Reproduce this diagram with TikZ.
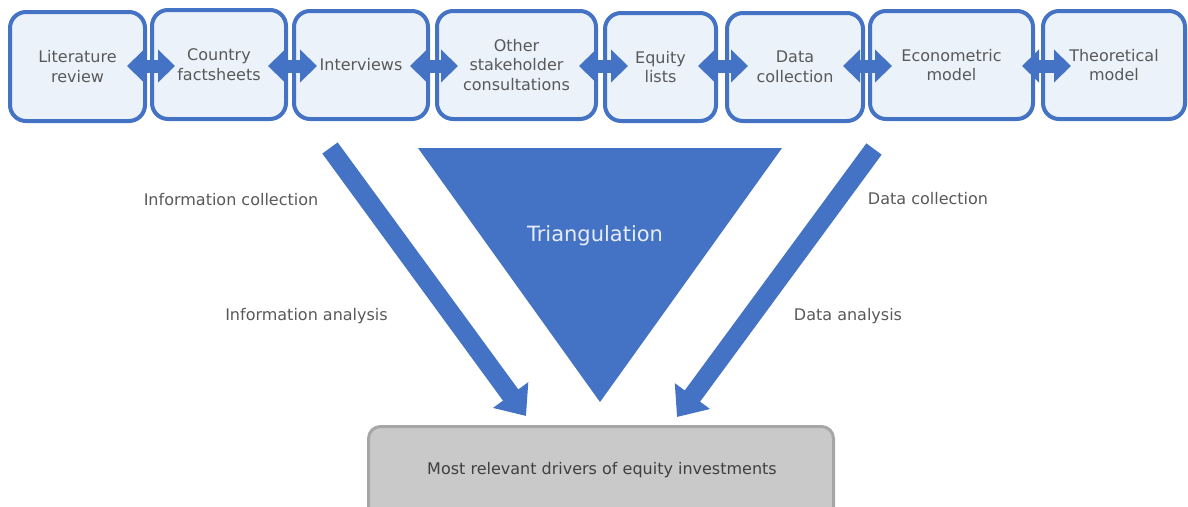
\documentclass[tikz,border=0pt]{standalone}
\usepackage{fontspec}
\setmainfont{DejaVu Sans}
\usetikzlibrary{arrows.meta,calc}
\definecolor{accent}{HTML}{4472C4}
\definecolor{boxfill}{HTML}{EBF2FA}
\definecolor{txtgray}{HTML}{595959}
\definecolor{resfill}{HTML}{C9C9C9}
\definecolor{resline}{HTML}{A6A6A6}
\definecolor{restext}{HTML}{404040}
\definecolor{trilabel}{HTML}{E6EDF8}
\begin{document}
\begin{tikzpicture}[x=1pt,y=-1pt,
  stage/.style={draw=accent, fill=boxfill, line width=4pt, rounded corners=16pt,
    outer sep=0pt, inner sep=0pt, text=txtgray, align=center,
    font=\fontsize{16}{19.5}\selectfont},
  dbl/.style={accent, line width=13pt,
    {Triangle[width=32pt,length=17pt]}-{Triangle[width=32pt,length=17pt]}},
  flow/.style={accent, line width=19pt, -{Triangle[width=42pt,length=26pt]}},
  lbl/.style={text=txtgray, font=\fontsize{16}{19.5}\selectfont, inner sep=0pt}]
\useasboundingbox (0,0) rectangle (1188,506);
\clip (0,0) rectangle (1188,506);

% process stages
\node[stage, minimum width=135pt, minimum height=109pt] (b1) at (77.5,66.5) {Literature\\review};
\node[stage, minimum width=134pt, minimum height=109pt] (b2) at (219,64.5) {Country\\factsheets};
\node[stage, minimum width=134pt, minimum height=108pt] (b3) at (361,65) {Interviews};
\node[stage, minimum width=159pt, minimum height=108pt] (b4) at (516.5,65) {Other\\stakeholder\\consultations};
\node[stage, minimum width=111pt, minimum height=108pt] (b5) at (660.5,67) {Equity\\lists};
\node[stage, minimum width=136pt, minimum height=108pt] (b6) at (795,67) {Data\\collection};
\node[stage, minimum width=163pt, minimum height=108pt] (b7) at (951.5,65) {Econometric\\model};
\node[stage, minimum width=142pt, minimum height=108pt] (b8) at (1114,65) {Theoretical\\model};

% two-way links between neighbouring stages
\draw[dbl] ($(b1.east |- 0,66)+(-18,0)$) -- ($(b2.west |- 0,66)+(23,0)$);
\draw[dbl] ($(b2.east |- 0,66)+(-18,0)$) -- ($(b3.west |- 0,66)+(23,0)$);
\draw[dbl] ($(b3.east |- 0,66)+(-18,0)$) -- ($(b4.west |- 0,66)+(21,0)$);
\draw[dbl] ($(b4.east |- 0,66)+(-17,0)$) -- ($(b5.west |- 0,66)+(23,0)$);
\draw[dbl] ($(b5.east |- 0,66)+(-18,0)$) -- ($(b6.west |- 0,66)+(21,0)$);
\draw[dbl] ($(b6.east |- 0,66)+(-20,0)$) -- ($(b7.west |- 0,66)+(22,0)$);
\draw[dbl] ($(b7.east |- 0,66)+(-11,0)$) -- ($(b8.west |- 0,66)+(28,0)$);

% triangulation funnel
\fill[accent] (418,148) -- (782,148) -- (600,402) -- cycle;
\node[text=trilabel, font=\fontsize{21}{24}\selectfont, inner sep=0pt] (tri) at (595,236) {Triangulation};

% result
\node[draw=resline, fill=resfill, line width=3pt, rounded corners=12pt, outer sep=0pt,
  minimum width=465pt, minimum height=100pt] (res) at (601,476.5) {};
\node[text=restext, font=\fontsize{16}{19.5}\selectfont, inner sep=0pt] (restxt) at (602,470)
  {Most relevant drivers of equity investments};

% information and data streams
\coordinate (lt) at (330,148);
\coordinate (lh) at (526,416);
\coordinate (rt) at (874,149);
\coordinate (rh) at (677,417);
\draw[flow] (lt) -- (lh);
\draw[flow] (rt) -- (rh);

\node[lbl] (l1) at (231,200) {Information collection};
\node[lbl] (l2) at (306.5,316) {Information analysis};
\node[lbl] (l3) at (928,199) {Data collection};
\node[lbl] (l4) at (848,316) {Data analysis};
\end{tikzpicture}
\end{document}
